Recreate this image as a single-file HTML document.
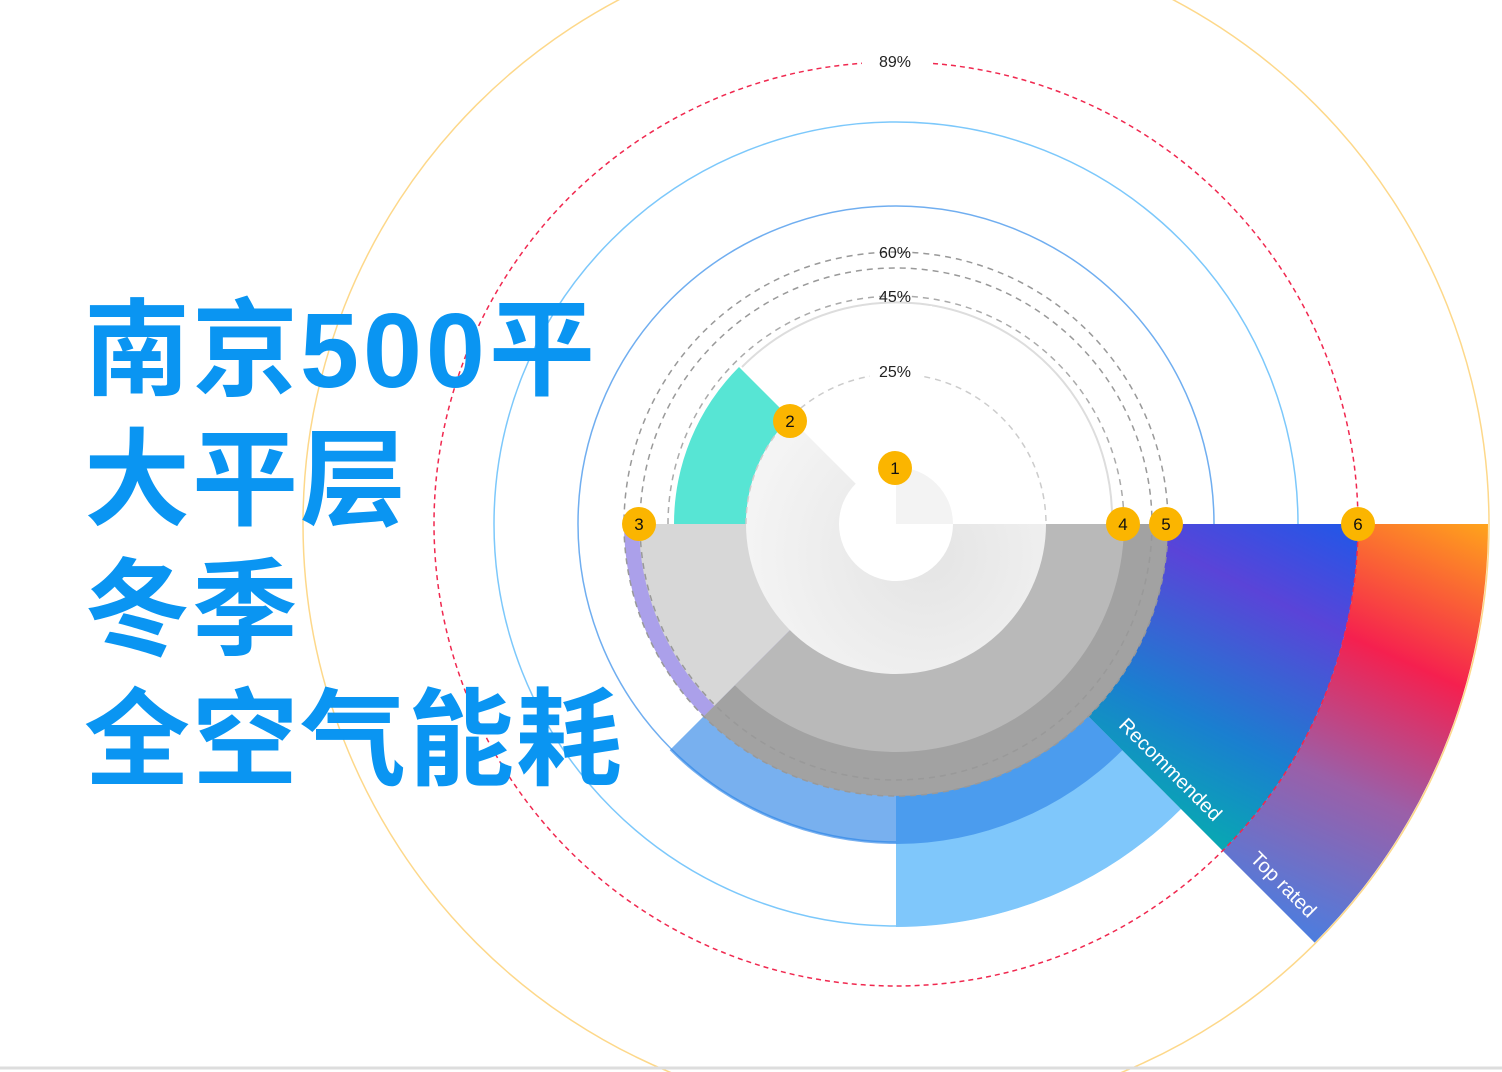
<!DOCTYPE html>
<html><head><meta charset="utf-8"><style>
html,body{margin:0;padding:0;background:#fff;width:1502px;height:1072px;overflow:hidden}
.t{position:absolute;left:84px;font-family:"Liberation Sans","Noto Sans CJK SC",sans-serif;font-weight:bold;color:#0a95f2;font-size:106px;line-height:106px;white-space:nowrap;letter-spacing:2px}
.d{letter-spacing:4px}
</style></head><body>
<svg width="1502" height="1072" style="position:absolute;left:0;top:0" font-family="Liberation Sans, sans-serif">
<defs>
<linearGradient id="rb" gradientUnits="userSpaceOnUse" x1="1488" y1="524" x2="1300" y2="940">
<stop offset="0" stop-color="#ffa41b"/><stop offset="0.35" stop-color="#f5204f"/><stop offset="0.65" stop-color="#9b5fa8"/><stop offset="1" stop-color="#4a7ee0"/></linearGradient>
<linearGradient id="pg" gradientUnits="userSpaceOnUse" x1="1358" y1="524" x2="1200" y2="840">
<stop offset="0" stop-color="#1f58e8"/><stop offset="0.3" stop-color="#5a44d8"/><stop offset="0.7" stop-color="#1a7fd0"/><stop offset="1" stop-color="#08a8b2"/></linearGradient>
<radialGradient id="ig" cx="0.6" cy="0.6" r="0.6"><stop offset="0" stop-color="#e4e4e4"/><stop offset="1" stop-color="#f4f4f4"/></radialGradient>
</defs>
<circle cx="896" cy="524" r="593" fill="none" stroke="#fdd88a" stroke-width="1.5"/>
<circle cx="896" cy="524" r="402" fill="none" stroke="#7cc8fb" stroke-width="1.5"/>
<circle cx="896" cy="524" r="318" fill="none" stroke="#70aef0" stroke-width="1.5"/>
<path d="M896,524 L896,927 A403 403 0 0 0 1180.96,808.96 Z" fill="#7fc7fb"/>
<path d="M1358,524 L1488,524 A592 592 0 0 1 1314.6,942.6 L1222.7,850.7 A462 462 0 0 0 1358,524 Z" fill="url(#rb)"/>
<path d="M896,524 L1358,524 A462 462 0 0 1 1222.7,850.7 Z" fill="url(#pg)"/>
<path d="M896,524 L1122.3,750.3 A320 320 0 0 1 669.7,750.3 Z" fill="#2f86e6" fill-opacity="0.65"/>
<path d="M896,524 L1168,524 A272 272 0 0 1 703.7,716.3 Z" fill="#a2a2a2"/>
<path d="M896,524 L1124,524 A228 228 0 0 1 734.8,685.2 Z" fill="#b9b9b9"/>
<path d="M896,524 L703.7,716.3 A272 272 0 0 1 624,524 Z" fill="#aba0ea"/>
<path d="M896,524 L714.3,705.7 A257 257 0 0 1 639,524 Z" fill="#d7d7d7"/>
<circle cx="896" cy="524" r="462" fill="none" stroke="#f0284f" stroke-width="1.5" stroke-dasharray="5,4"/>
<circle cx="896" cy="524" r="272" fill="none" stroke="#999" stroke-width="1.5" stroke-dasharray="6,5"/>
<circle cx="896" cy="524" r="256" fill="none" stroke="#999" stroke-width="1.5" stroke-dasharray="6,5"/>
<path d="M668,524 A228 228 0 0 1 1124,524" fill="none" stroke="#aaa" stroke-width="1.5" stroke-dasharray="6,5"/>
<path d="M742,367 A216 216 0 0 1 1112,524" fill="none" stroke="#ddd" stroke-width="2"/>
<path d="M674,524 A222 222 0 0 1 739,367 L789.9,417.9 A150 150 0 0 0 746,524 Z" fill="#57e5d4"/>
<circle cx="896" cy="524" r="150" fill="url(#ig)"/>
<path d="M896,524 L789.9,417.9 A150 150 0 0 1 1046,524 Z" fill="#fff"/>
<circle cx="896" cy="524" r="57" fill="#fff"/>
<path d="M896,467 A57 57 0 0 1 953,524 L896,524 Z" fill="#f3f3f3"/>
<path d="M746,524 A150 150 0 0 1 1046,524" fill="none" stroke="#ccc" stroke-width="1.5" stroke-dasharray="6,5"/>
<g font-size="16" text-anchor="middle" fill="#222">
<rect x="862" y="48" width="70" height="24" fill="#fff"/><text x="895" y="67">89%</text>
<rect x="862" y="306" width="70" height="6" fill="#fff"/>
<text x="895" y="258">60%</text><text x="895" y="302">45%</text>
<rect x="870" y="362" width="52" height="16" fill="#fff"/><text x="895" y="377">25%</text>
</g>
<g font-size="17" text-anchor="middle" fill="#111">
<circle cx="895" cy="468" r="17" fill="#fbb500"/><text x="895" y="474">1</text>
<circle cx="790" cy="421" r="17" fill="#fbb500"/><text x="790" y="427">2</text>
<circle cx="639" cy="524" r="17" fill="#fbb500"/><text x="639" y="530">3</text>
<circle cx="1123" cy="524" r="17" fill="#fbb500"/><text x="1123" y="530">4</text>
<circle cx="1166" cy="524" r="17" fill="#fbb500"/><text x="1166" y="530">5</text>
<circle cx="1358" cy="524" r="17" fill="#fbb500"/><text x="1358" y="530">6</text>
</g>
<text x="1170" y="776" font-size="20" fill="#fff" text-anchor="middle" transform="rotate(45 1170 770)">Recommended</text>
<text x="1283" y="891" font-size="20" fill="#fff" text-anchor="middle" transform="rotate(45 1283 885)">Top rated</text>
<line x1="0" y1="1068" x2="1502" y2="1068" stroke="#ddd" stroke-width="3"/>
</svg>
<div class="t" style="top:298px">南京<span class="d">500</span>平</div>
<div class="t" style="top:428px">大平层</div>
<div class="t" style="top:558px">冬季</div>
<div class="t" style="top:688px">全空气能耗</div>
</body></html>
